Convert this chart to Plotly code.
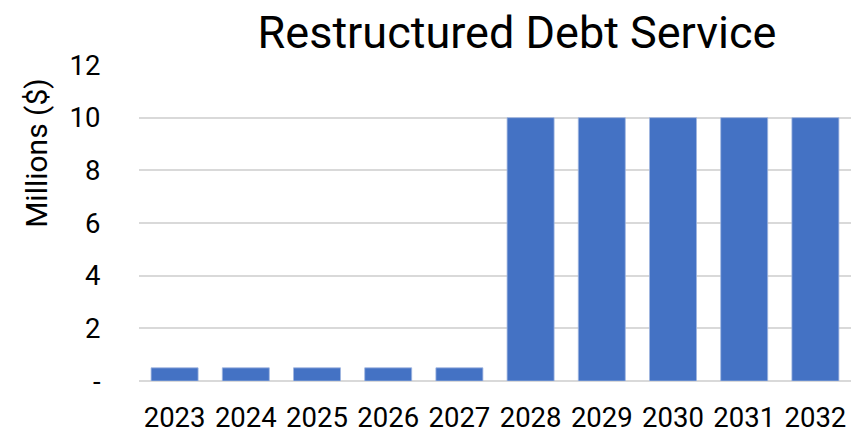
import plotly.graph_objects as go

years = ["2023", "2024", "2025", "2026", "2027", "2028", "2029", "2030", "2031", "2032"]
debt_service = [0.5, 0.5, 0.5, 0.5, 0.5, 10, 10, 10, 10, 10]
tick_vals = [0, 2, 4, 6, 8, 10, 12]
tick_text = ["-", "2", "4", "6", "8", "10", "12"]

fig = go.Figure(go.Bar(
    x=years, y=debt_service,
    marker=dict(color="#4472C4", line=dict(color="#9fb5e0", width=0.8)),
))

fig.update_layout(
    width=861, height=433,
    margin=dict(l=139, r=10, t=65, b=52, autoexpand=False),
    paper_bgcolor="white", plot_bgcolor="white",
    font=dict(family="Roboto", color="black"),
    bargap=0.34,
    showlegend=False,
    title=dict(text="Restructured Debt Service", x=517/861, xanchor="center",
               y=1 - 32/433, yanchor="middle", xref="container", yref="container",
               font=dict(size=45, family="Roboto", color="black")),
)
fig.update_xaxes(
    type="category", showgrid=False, showline=False, automargin=False,
    ticks="outside", ticklen=12, tickcolor="rgba(0,0,0,0)",
    tickfont=dict(size=27.5, family="Roboto", color="black"),
)
fig.update_yaxes(
    range=[0, 12], tickvals=tick_vals, ticktext=tick_text, automargin=False,
    showgrid=True, gridcolor="#d9d9d9", gridwidth=2,
    zeroline=True, zerolinecolor="#d9d9d9", zerolinewidth=2,
    ticks="outside", ticklen=32, tickcolor="rgba(0,0,0,0)",
    tickfont=dict(size=27.5, family="Roboto", color="black"),
)
fig.add_annotation(
    text="Millions ($)", textangle=-90, xref="paper", yref="paper",
    x=-(139 - 37) / 712, y=1 - (153 - 65) / 316.5,
    xanchor="center", yanchor="middle", showarrow=False,
    font=dict(size=30, family="Roboto", color="black"),
)

fig.write_html("out.html")
